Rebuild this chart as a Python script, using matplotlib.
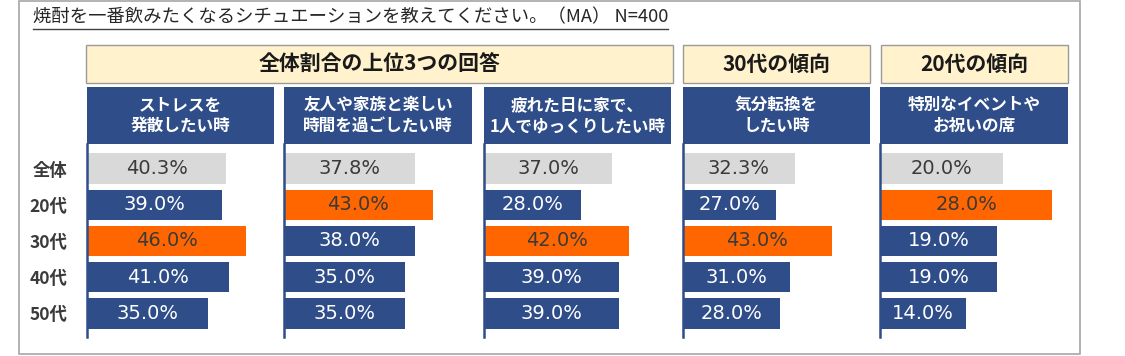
import matplotlib
matplotlib.use("Agg")
import matplotlib.pyplot as plt
from matplotlib.patches import Rectangle
from matplotlib.lines import Line2D

plt.rcParams['font.family'] = ['Noto Sans CJK JP', 'DejaVu Sans']

# ---- data ----
title = "焼酎を一番飲みたくなるシチュエーションを教えてください。（MA） N=400"
groups = ["全体割合の上位3つの回答", "30代の傾向", "20代の傾向"]
categories = ["全体", "20代", "30代", "40代", "50代"]
situations = ["ストレスを\n発散したい時",
              "友人や家族と楽しい\n時間を過ごしたい時",
              "疲れた日に家で、\n1人でゆっくりしたい時",
              "気分転換を\nしたい時",
              "特別なイベントや\nお祝いの席"]
stress = [40.3, 39.0, 46.0, 41.0, 35.0]
friends = [37.8, 43.0, 38.0, 35.0, 35.0]
tired = [37.0, 28.0, 42.0, 39.0, 39.0]
refresh = [32.3, 27.0, 43.0, 31.0, 28.0]
special = [20.0, 28.0, 19.0, 19.0, 14.0]
highlight = [2, 1, 2, 2, 1]   # index of the orange row in each column

# ---- style ----
NAVY = '#2f4d89'
ORANGE = '#ff6600'
GREY = '#d9d9d9'
YELLOW = '#fff2cc'

W, H = 1125, 356
fig = plt.figure(figsize=(W / 100, H / 100), dpi=100)


def fx(x):
    return x / W


def fy(y):
    return 1 - y / H


def box(x0, y0, x1, y1, **kw):
    r = Rectangle((fx(x0), fy(y1)), fx(x1) - fx(x0), fy(y0) - fy(y1),
                  transform=fig.transFigure, **kw)
    fig.patches.append(r)


# outer frame
box(19, 1, 1080, 354, facecolor='none', edgecolor='#a6a6a6', lw=1.2)

# title + underline
t = fig.text(fx(33), fy(17), title, ha='left', va='center', fontsize=13.2, color='#262626')
fig.canvas.draw()
bb = t.get_window_extent()
fig.add_artist(Line2D([bb.x0 / W, bb.x1 / W], [fy(29), fy(29)],
                      transform=fig.transFigure, color='#404040', lw=1))

# yellow group headers
group_x = [(86, 673), (683, 870), (881, 1068)]
for (x0, x1), g in zip(group_x, groups):
    box(x0, 45, x1, 83, facecolor=YELLOW, edgecolor='#9a9a9a', lw=1)
    fig.text(fx((x0 + x1) / 2), fy(64), g, ha='center', va='center',
             fontsize=15, fontweight='bold', color='#1a1a1a')

# bar panels
col_x = [(87, 274), (284, 472), (484, 671), (683, 870), (880, 1068)]
series = [stress, friends, tired, refresh, special]
px_per_pct = [3.46, 3.46, 3.46, 3.46, 6.15]
top, bottom = 144, 337
pitch = 36.25

for i, ((x0, x1), vals, lab) in enumerate(zip(col_x, series, situations)):
    # navy header
    box(x0, 87, x1, top, facecolor=NAVY, edgecolor='none')
    fig.text(fx((x0 + x1) / 2), fy(115.5), lab, ha='center', va='center',
             fontsize=12, fontweight='bold', color='white', linespacing=1.25)

    ax = fig.add_axes([fx(x0), fy(bottom), fx(x1) - fx(x0), fy(top) - fy(bottom)])
    colors = [GREY] + [NAVY] * 4
    colors[highlight[i]] = ORANGE
    ypos = range(len(categories))
    ax.barh(ypos, vals, height=0.83, color=colors, left=0)
    for y, v, c in zip(ypos, vals, colors):
        tc = 'white' if c == NAVY else '#3a3a3a'
        ax.text(v / 2, y, f"{v:.1f}%", ha='center', va='center',
                fontsize=14, color=tc, family='DejaVu Sans')
    ax.set_xlim(0, (x1 - x0) / px_per_pct[i])
    ax.set_ylim(4 + (bottom - 313.5) / pitch, -(168.5 - top) / pitch)
    ax.set_xticks([])
    for s in ['top', 'right', 'bottom']:
        ax.spines[s].set_visible(False)
    ax.spines['left'].set_color(NAVY)
    ax.spines['left'].set_linewidth(1.8)
    ax.patch.set_alpha(0)
    if i == 0:
        ax.set_yticks(list(ypos))
        ax.set_yticklabels(categories, fontsize=12.5, fontweight='bold', color='#3a3a3a')
        ax.tick_params(axis='y', length=0, pad=14)
    else:
        ax.set_yticks([])

fig.savefig("out.png", dpi=100)
